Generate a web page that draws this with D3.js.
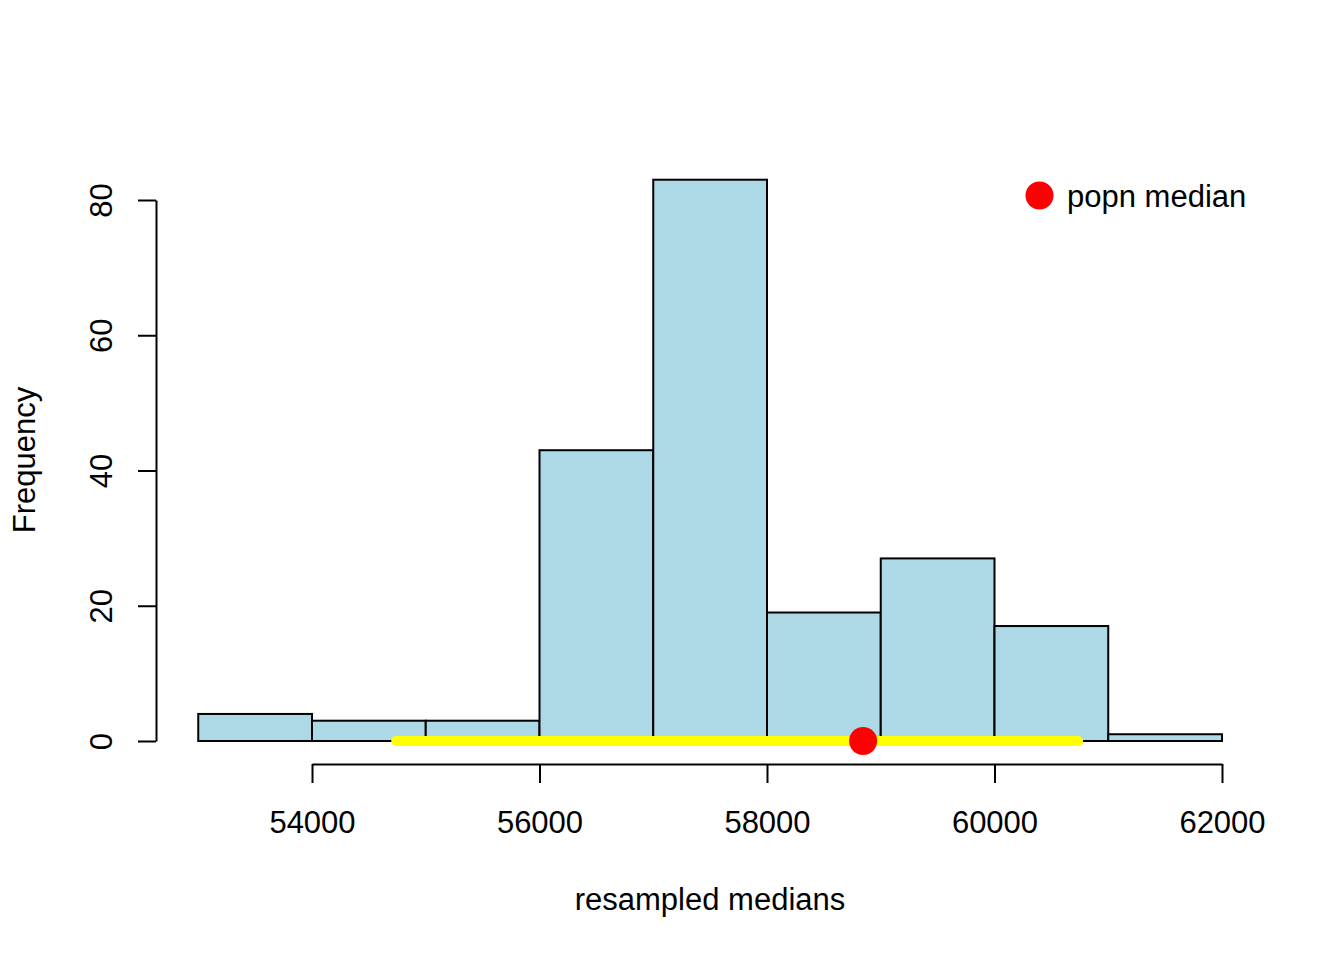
<!DOCTYPE html>
<html><head><meta charset="utf-8">
<script src="https://cdn.jsdelivr.net/npm/d3@7"></script>
<style>body{margin:0;background:#fff}text{font-family:"Liberation Sans",Arial,sans-serif;fill:#000}</style>
</head><body>
<svg id="c" width="1344" height="960"></svg>
<script>
const binStarts = [53000,54000,55000,56000,57000,58000,59000,60000,61000];
const binWidth = 1000;
const counts = [4,3,3,43,83,19,27,17,1];
const xTicks = [54000,56000,58000,60000,62000];
const yTicks = [0,20,40,60,80];
const intervalLo = 54740, intervalHi = 60735;
const popnMedian = 58845;

const svg = d3.select("#c");
const x = d3.scaleLinear().domain([54000,62000]).range([312,1222]);
const y = d3.scaleLinear().domain([0,80]).range([741,200]);
const fs = 31;

svg.selectAll("rect.bar").data(binStarts).enter().append("rect")
  .attr("x", d=>x(d)).attr("width", d=>x(d+binWidth)-x(d))
  .attr("y", (d,i)=>y(counts[i])).attr("height",(d,i)=>y(0)-y(counts[i]))
  .attr("fill","#ADD8E6").attr("stroke","#000").attr("stroke-width",2);

// x axis
const gx = svg.append("g").attr("transform","translate(0,764)");
gx.call(d3.axisBottom(x).tickValues(xTicks).tickSize(19).tickSizeOuter(0).tickFormat(d3.format("d")));
gx.select(".domain").attr("stroke-width",2);
gx.selectAll(".tick line").attr("stroke-width",2);
gx.selectAll(".tick text").attr("font-size",fs).attr("font-family","Liberation Sans, Arial, sans-serif").attr("dy",null).attr("y",69-0);

// y axis
const gy = svg.append("g").attr("transform","translate(156,0)");
gy.call(d3.axisLeft(y).tickValues(yTicks).tickSize(18).tickSizeOuter(0));
gy.select(".domain").attr("stroke-width",2);
gy.selectAll(".tick line").attr("stroke-width",2);
gy.selectAll(".tick text").attr("font-size",fs).attr("font-family","Liberation Sans, Arial, sans-serif")
  .attr("x",null).attr("dy",null).attr("text-anchor","middle").attr("transform","translate(-44,0) rotate(-90)");

// interval line
svg.append("line").attr("x1",x(intervalLo)).attr("x2",x(intervalHi)).attr("y1",y(0)).attr("y2",y(0))
  .attr("stroke","#FFFF00").attr("stroke-width",10).attr("stroke-linecap","round");
svg.append("circle").attr("cx",x(popnMedian)).attr("cy",y(0)).attr("r",14).attr("fill","#FF0000");

// labels
svg.append("text").attr("x",710).attr("y",910).attr("text-anchor","middle").attr("font-size",fs).text("resampled medians");
svg.append("text").attr("transform","translate(35,460) rotate(-90)").attr("text-anchor","middle").attr("font-size",fs).text("Frequency");

// legend
svg.append("circle").attr("cx",1039.5).attr("cy",195.5).attr("r",14).attr("fill","#FF0000");
svg.append("text").attr("x",1067).attr("y",207).attr("font-size",fs).text("popn median");
</script>
</body></html>
